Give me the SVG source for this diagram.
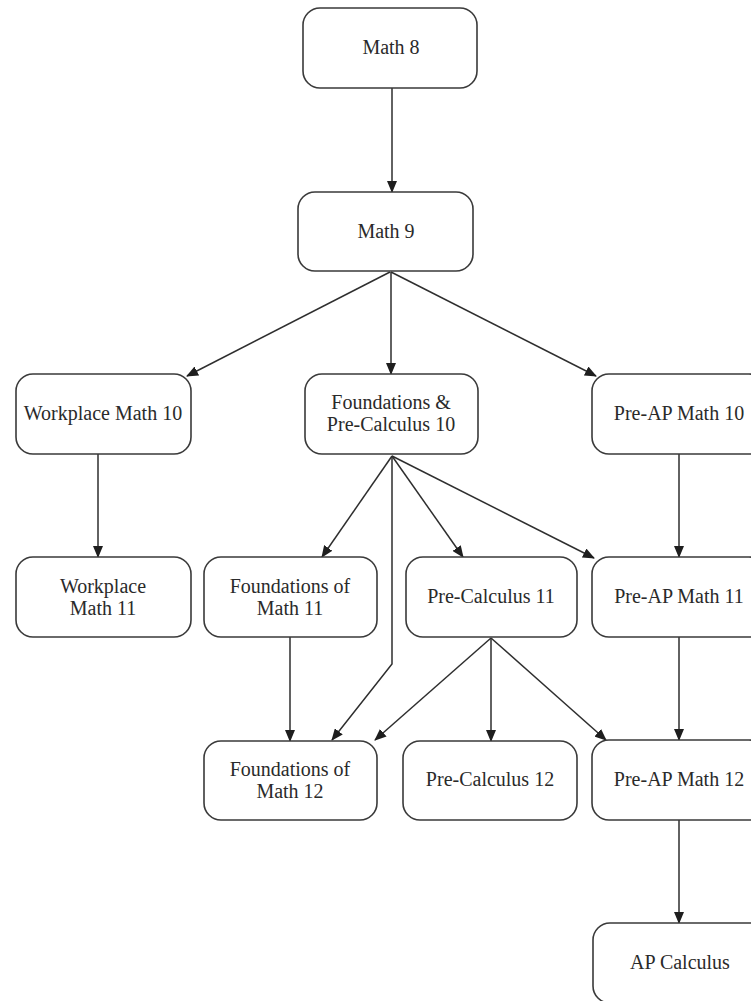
<svg xmlns="http://www.w3.org/2000/svg" width="751" height="1001" viewBox="0 0 751 1001">
<style>
.box{fill:#fff;stroke:#3a3a3a;stroke-width:1.6}
.lbl{font-family:"Liberation Serif","Times New Roman",serif;font-size:20px;fill:#2a2a2a;text-anchor:middle}
.edge{fill:none;stroke:#2e2e2e;stroke-width:1.5}
</style>
<defs>
<marker id="arr" markerUnits="userSpaceOnUse" markerWidth="12" markerHeight="10" refX="11" refY="5" orient="auto">
<path d="M0,0 L12,5 L0,10 z" fill="#1e1e1e"/>
</marker>
</defs>
<rect width="751" height="1001" fill="#fff"/>
<g id="connectors">
<path class="edge" marker-end="url(#arr)" d="M392,88 L392,192"/>
<path class="edge" marker-end="url(#arr)" d="M390,272 L187,376"/>
<path class="edge" marker-end="url(#arr)" d="M391,272 L391,374"/>
<path class="edge" marker-end="url(#arr)" d="M391,272 L596,376"/>
<path class="edge" marker-end="url(#arr)" d="M98,454 L98,557"/>
<path class="edge" marker-end="url(#arr)" d="M679,454 L679,557"/>
<path class="edge" marker-end="url(#arr)" d="M392,456 L322,557"/>
<path class="edge" marker-end="url(#arr)" d="M392,456 L463,557"/>
<path class="edge" marker-end="url(#arr)" d="M392,456 L594,558"/>
<path class="edge" marker-end="url(#arr)" d="M392,456 L392,664 L332,740"/>
<path class="edge" marker-end="url(#arr)" d="M290,637 L290,741"/>
<path class="edge" marker-end="url(#arr)" d="M491,638 L375,740"/>
<path class="edge" marker-end="url(#arr)" d="M491,638 L491,741"/>
<path class="edge" marker-end="url(#arr)" d="M491,638 L606,740"/>
<path class="edge" marker-end="url(#arr)" d="M679,637 L679,740"/>
<path class="edge" marker-end="url(#arr)" d="M679,820 L679,923"/>
</g>
<g id="math8"><rect class="box" x="303" y="8" width="174" height="80" rx="17"/><text class="lbl" x="391" y="54">Math 8</text></g>
<g id="math9"><rect class="box" x="298" y="192" width="175" height="79" rx="17"/><text class="lbl" x="386" y="238">Math 9</text></g>
<g id="workplace10"><rect class="box" x="16" y="374" width="175" height="80" rx="17"/><text class="lbl" x="103" y="420">Workplace Math 10</text></g>
<g id="fpc10"><rect class="box" x="305" y="374" width="173" height="80" rx="17"/><text class="lbl" x="391" y="409">Foundations &amp;</text><text class="lbl" x="391" y="431">Pre-Calculus 10</text></g>
<g id="preap10"><rect class="box" x="592" y="374" width="174" height="80" rx="17"/><text class="lbl" x="679" y="420">Pre-AP Math 10</text></g>
<g id="workplace11"><rect class="box" x="16" y="557" width="175" height="80" rx="17"/><text class="lbl" x="103" y="593">Workplace</text><text class="lbl" x="103" y="615">Math 11</text></g>
<g id="found11"><rect class="box" x="204" y="557" width="173" height="80" rx="17"/><text class="lbl" x="290" y="593">Foundations of</text><text class="lbl" x="290" y="615">Math 11</text></g>
<g id="precalc11"><rect class="box" x="406" y="557" width="171" height="80" rx="17"/><text class="lbl" x="491" y="603">Pre-Calculus 11</text></g>
<g id="preap11"><rect class="box" x="592" y="557" width="174" height="80" rx="17"/><text class="lbl" x="679" y="603">Pre-AP Math 11</text></g>
<g id="found12"><rect class="box" x="204" y="741" width="173" height="79" rx="17"/><text class="lbl" x="290" y="776">Foundations of</text><text class="lbl" x="290" y="798">Math 12</text></g>
<g id="precalc12"><rect class="box" x="403" y="741" width="174" height="79" rx="17"/><text class="lbl" x="490" y="786">Pre-Calculus 12</text></g>
<g id="preap12"><rect class="box" x="592" y="740" width="174" height="80" rx="17"/><text class="lbl" x="679" y="786">Pre-AP Math 12</text></g>
<g id="apcalc"><rect class="box" x="593" y="923" width="174" height="80" rx="17"/><text class="lbl" x="680" y="969">AP Calculus</text></g>
</svg>
